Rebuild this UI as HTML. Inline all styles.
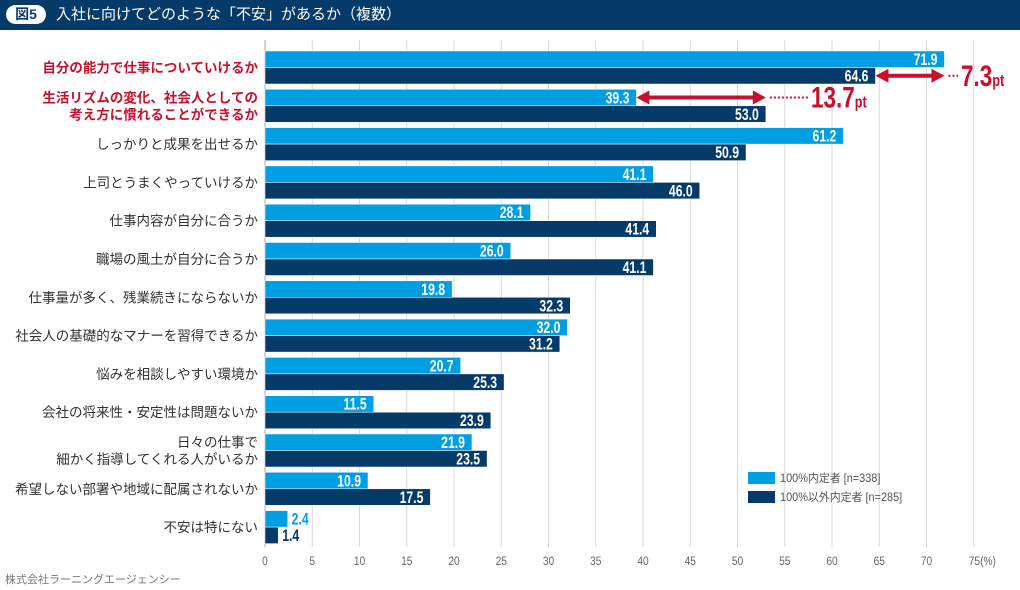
<!DOCTYPE html>
<html><head><meta charset="utf-8">
<style>
html,body{margin:0;padding:0;background:#fff;}
body{width:1020px;height:590px;overflow:hidden;position:relative;font-family:"Liberation Sans","Noto Sans CJK JP",sans-serif;}
#title{position:absolute;left:0;top:0;width:1020px;height:30px;background:#063a68;color:#fff;}
#badge{position:absolute;left:6px;top:5px;width:40px;height:19px;background:#fff;border-radius:10px;color:#063a68;font-size:14px;font-weight:bold;text-align:center;line-height:19px;}
#ttext{position:absolute;left:56px;top:3px;font-size:15px;line-height:24px;}
svg{position:absolute;left:0;top:0;}
</style></head>
<body>
<div id="title">
<div id="badge">図5</div>
<div id="ttext">入社に向けてどのような「不安」があるか（複数）</div>
</div>
<svg id="chart" width="1020" height="590"></svg>
<script>
const categories=[["自分の能力で仕事についていけるか"],["生活リズムの変化、社会人としての","考え方に慣れることができるか"],["しっかりと成果を出せるか"],["上司とうまくやっていけるか"],["仕事内容が自分に合うか"],["職場の風土が自分に合うか"],["仕事量が多く、残業続きにならないか"],["社会人の基礎的なマナーを習得できるか"],["悩みを相談しやすい環境か"],["会社の将来性・安定性は問題ないか"],["日々の仕事で","細かく指導してくれる人がいるか"],["希望しない部署や地域に配属されないか"],["不安は特にない"]];
const seriesA=[71.9,39.3,61.2,41.1,28.1,26.0,19.8,32.0,20.7,11.5,21.9,10.9,2.4];
const seriesB=[64.6,53.0,50.9,46.0,41.4,41.1,32.3,31.2,25.3,23.9,23.5,17.5,1.4];
const ticks=[0,5,10,15,20,25,30,35,40,45,50,55,60,65,70,75];
const seriesNames=["100%内定者 [n=338]","100%以外内定者 [n=285]"];
const NS="http://www.w3.org/2000/svg";
const svg=document.getElementById('chart');
const x0=265,k=9.45,top0=51,gap=38.3,bh=16.5;
const xs=v=>x0+v*k;
const ys=i=>top0+i*gap;
function mk(t,a,p){const e=document.createElementNS(NS,t);for(const q in a)e.setAttribute(q,a[q]);(p||svg).appendChild(e);return e;}
function cond(x,y,sx){return `translate(${x},${y}) scale(${sx},1)`;}
ticks.forEach((t,i)=>{
  if(i>0){const g=mk('line',{x1:xs(t),x2:xs(t),y1:40,y2:547,stroke:'#d8d8d8','stroke-width':1});
  
  }
  const last=i==ticks.length-1;
  const tl=mk('text',{x:0,y:0,transform:cond(last?xs(t)-5:xs(t),565,0.85),'font-size':12,fill:'#666','text-anchor':last?'start':'middle'});
  tl.textContent=last?t+'(%)':t;
  
  
});
const ax=mk('line',{x1:x0,x2:x0,y1:40,y2:547,stroke:'#aaa','stroke-width':1});


categories.forEach((c,i)=>{
  const y=ys(i);
  [[seriesA[i],'#009fe3',0],[seriesB[i],'#063a68',1]].forEach(([v,col,s])=>{
    const yy=y+s*bh;
    const r=mk('rect',{x:x0,y:yy,width:v*k,height:bh,fill:col,stroke:'#fff','stroke-width':0.5});
    
    
    const inside=v>5;
    const t=mk('text',{x:0,y:0,transform:cond(inside?xs(v)-7:xs(v)+4,yy+14,0.72),'font-size':17,'font-weight':'bold',fill:inside?'#fff':col,'text-anchor':inside?'end':'start'});
    t.textContent=v.toFixed(1);
    
    
  });
  const red=i<2;
  const cy=y+bh;
  c.forEach((ln,j)=>{
    const t=mk('text',{x:258,y:cy+5+(j-(c.length-1)/2)*17,'font-size':13.5,fill:red?'#c8102e':'#333','font-weight':red?'bold':'normal','text-anchor':'end'});
    t.textContent=ln;
    
    
  });
});
function arrow(xa,xb,y,dotEnd,label,lx){
  const g=mk('g',{});
  
  
  mk('line',{x1:xa+10,x2:xb-10,y1:y,y2:y,stroke:'#c8102e','stroke-width':4},g);
  mk('polygon',{points:`${xa},${y} ${xa+13},${y-7} ${xa+13},${y+7}`,fill:'#c8102e'},g);
  mk('polygon',{points:`${xb},${y} ${xb-13},${y-7} ${xb-13},${y+7}`,fill:'#c8102e'},g);
  mk('line',{x1:xb+4,x2:dotEnd,y1:y,y2:y,stroke:'#c8102e','stroke-width':2,'stroke-dasharray':'2,2'},g);
  const t=mk('text',{x:0,y:0,transform:cond(lx,y+10,0.75),fill:'#c8102e','font-weight':'bold'},g);
  const a=mk('tspan',{'font-size':30},t);a.textContent=label;
  const b=mk('tspan',{'font-size':17},t);b.textContent='pt';
}
arrow(xs(seriesB[0]),xs(seriesA[0]),ys(0)+bh*1.5,958,(seriesA[0]-seriesB[0]).toFixed(1),961);
arrow(xs(seriesA[1]),xs(seriesB[1]),ys(1)+bh*0.5,808,(seriesB[1]-seriesA[1]).toFixed(1),811);
[['#009fe3',seriesNames[0],478],['#063a68',seriesNames[1],497]].forEach(([c,n,y])=>{
  const r=mk('rect',{x:748,y:y-6,width:27,height:12,fill:c});
  
  
  const t=mk('text',{x:0,y:0,transform:cond(780,y+4,0.95),'font-size':11.5,fill:'#555'});
  t.textContent=n;
  
  
});
const src=mk('text',{x:5,y:583,'font-size':11,fill:'#777'});
src.textContent='株式会社ラーニングエージェンシー';


</script>
</body></html>
